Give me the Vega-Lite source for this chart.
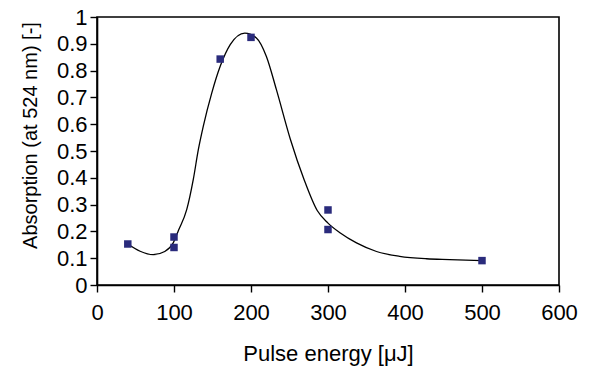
{
  "$schema": "https://vega.github.io/schema/vega-lite/v6.json",
  "width": 462,
  "height": 268,
  "autosize": {"type": "none"},
  "padding": {"left": 97, "top": 17, "right": 30, "bottom": 83},
  "background": "white",
  "config": {
    "view": {"stroke": "black", "strokeWidth": 1.6},
    "font": "Liberation Sans",
    "axis": {
      "grid": false,
      "domainColor": "black",
      "domainWidth": 1.6,
      "tickColor": "black",
      "tickWidth": 1.4,
      "tickSize": 7,
      "labelColor": "black",
      "labelFont": "Liberation Sans",
      "labelFontSize": 22,
      "titleColor": "black",
      "titleFont": "Liberation Sans",
      "titleFontWeight": "normal"
    }
  },
  "datasets": {
    "measured": [
      {"energy": 40, "absorption": 0.153},
      {"energy": 100, "absorption": 0.179},
      {"energy": 100, "absorption": 0.140},
      {"energy": 160, "absorption": 0.843},
      {"energy": 200, "absorption": 0.924},
      {"energy": 300, "absorption": 0.280},
      {"energy": 300, "absorption": 0.207},
      {"energy": 500, "absorption": 0.091}
    ],
    "trend": [
      {"energy": 40, "absorption": 0.153},
      {"energy": 56, "absorption": 0.126},
      {"energy": 73, "absorption": 0.113},
      {"energy": 88, "absorption": 0.125},
      {"energy": 99, "absorption": 0.157},
      {"energy": 106, "absorption": 0.205},
      {"energy": 116.5, "absorption": 0.281},
      {"energy": 125, "absorption": 0.393},
      {"energy": 131.6, "absorption": 0.505},
      {"energy": 138, "absorption": 0.592},
      {"energy": 149, "absorption": 0.716},
      {"energy": 160, "absorption": 0.816},
      {"energy": 173, "absorption": 0.897},
      {"energy": 192, "absorption": 0.940},
      {"energy": 207, "absorption": 0.922},
      {"energy": 220, "absorption": 0.853},
      {"energy": 233, "absorption": 0.729},
      {"energy": 251, "absorption": 0.545},
      {"energy": 269, "absorption": 0.393},
      {"energy": 286, "absorption": 0.278},
      {"energy": 300, "absorption": 0.231},
      {"energy": 316, "absorption": 0.194},
      {"energy": 337, "absorption": 0.157},
      {"energy": 363, "absorption": 0.125},
      {"energy": 393, "absorption": 0.107},
      {"energy": 428, "absorption": 0.098},
      {"energy": 458, "absorption": 0.095},
      {"energy": 500, "absorption": 0.091}
    ]
  },
  "encoding": {
    "x": {
      "field": "energy",
      "type": "quantitative",
      "scale": {"domain": [0, 600], "nice": false, "zero": false},
      "axis": {
        "title": "Pulse energy [μJ]",
        "titleFontSize": 22,
        "values": [0, 100, 200, 300, 400, 500, 600],
        "labelPadding": 10,
        "labelFlush": false,
        "titleX": 231,
        "titleY": 75,
        "titleBaseline": "alphabetic",
        "titleAlign": "center"
      }
    },
    "y": {
      "field": "absorption",
      "type": "quantitative",
      "scale": {"domain": [0, 1], "nice": false},
      "axis": {
        "title": "Absorption (at 524 nm) [-]",
        "titleFontSize": 20,
        "values": [0, 0.1, 0.2, 0.3, 0.4, 0.5, 0.6, 0.7, 0.8, 0.9, 1],
        "format": ".1~f",
        "labelPadding": 3,
        "labelFlush": false,
        "titleAngle": -90,
        "titleX": -61,
        "titleY": 118,
        "titleBaseline": "alphabetic",
        "titleAlign": "center"
      }
    }
  },
  "layer": [
    {
      "data": {"name": "trend"},
      "mark": {"type": "line", "color": "black", "strokeWidth": 1.3, "interpolate": "monotone"}
    },
    {
      "data": {"name": "measured"},
      "mark": {"type": "point", "shape": "square", "filled": true, "size": 56, "color": "#2a2b7c", "opacity": 1}
    }
  ]
}
